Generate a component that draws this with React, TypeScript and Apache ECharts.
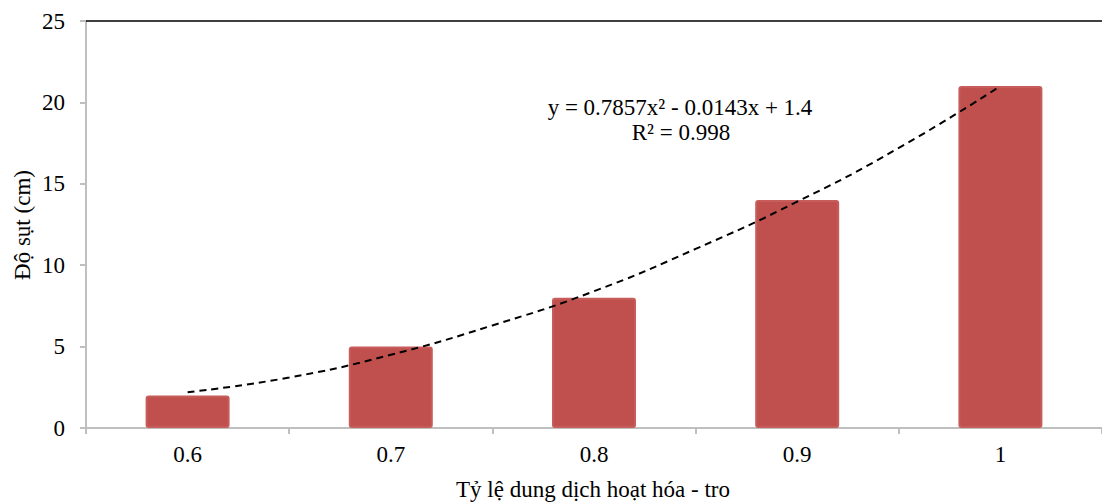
import React, { useEffect, useRef } from "react";
import * as echarts from "echarts";

const categories = ["0.6", "0.7", "0.8", "0.9", "1"];
const barValues = [2, 5, 8, 14, 21];
// trendline points: [category position (1..5), value]
const trendX = [1, 1.5, 2, 2.5, 3, 3.5, 4, 4.5, 5];
const trendY = [2.2, 3.1, 4.5, 6.3, 8.4, 11.0, 13.9, 17.2, 21.0];
const yTicks = { min: 0, max: 25, interval: 5 };
const equationText = "y = 0.7857x² - 0.0143x + 1.4";
const r2Text = "R² = 0.998";
const xTitle = "Tỷ lệ dung dịch hoạt hóa - tro";
const yTitle = "Độ sụt (cm)";

const FONT = "Liberation Serif";
const FS = 23;

export default function App() {
  const ref = useRef<HTMLDivElement>(null);
  useEffect(() => {
    if (!ref.current) return;
    const chart = echarts.init(ref.current, null, { renderer: "svg" });
    const txt = (text: string, x: number, y: number, extra: any = {}) => ({
      type: "text",
      x,
      y,
      ...extra,
      style: {
        text,
        fontSize: FS,
        fontFamily: FONT,
        fill: "#000",
        align: "center",
        verticalAlign: "middle",
      },
    });
    chart.setOption({
      animation: false,
      backgroundColor: "#ffffff",
      textStyle: { fontFamily: FONT },
      grid: { left: 86, right: -6, top: 21, bottom: 76, containLabel: false },
      xAxis: [
        {
          type: "category",
          data: categories,
          position: "bottom",
          axisLine: { show: true, lineStyle: { color: "#BFBFBF", width: 2 } },
          axisTick: { show: true, length: 6, lineStyle: { color: "#BFBFBF", width: 2 } },
          axisLabel: { color: "#000", fontSize: FS, fontFamily: FONT, margin: 15 },
          splitLine: { show: false },
        },
        {
          type: "value",
          position: "top",
          min: 0.5,
          max: 5.5,
          axisLine: { show: true, onZero: false, lineStyle: { color: "#000", width: 1.5 } },
          axisTick: { show: false },
          axisLabel: { show: false },
          splitLine: { show: false },
        },
      ],
      yAxis: {
        type: "value",
        min: yTicks.min,
        max: yTicks.max,
        interval: yTicks.interval,
        axisLine: { show: true, lineStyle: { color: "#BFBFBF", width: 2 } },
        axisTick: { show: true, length: 6, lineStyle: { color: "#BFBFBF", width: 2 } },
        axisLabel: { color: "#000", fontSize: FS, fontFamily: FONT, margin: 21 },
        splitLine: { show: false },
      },
      series: [
        {
          type: "bar",
          xAxisIndex: 0,
          data: barValues,
          barWidth: 84,
          itemStyle: {
            color: "#C0504D",
            borderColor: "#C65D5A",
            borderWidth: 2,
            borderRadius: 2,
          },
          z: 2,
        },
        {
          type: "line",
          xAxisIndex: 1,
          data: trendX.map((x, i) => [x, trendY[i]]),
          smooth: true,
          showSymbol: false,
          symbol: "none",
          lineStyle: { color: "#000", width: 2, type: [7, 5] },
          z: 3,
        },
      ],
      graphic: [
        txt(equationText, 680, 107),
        txt(r2Text, 681, 132),
        txt(xTitle, 593, 489),
        txt(yTitle, 22, 225, { rotation: Math.PI / 2 }),
      ],
    });
    return () => chart.dispose();
  }, []);
  return (
    <div
      ref={ref}
      style={{ position: "absolute", left: 0, top: 0, width: 1102, height: 504 }}
    />
  );
}
